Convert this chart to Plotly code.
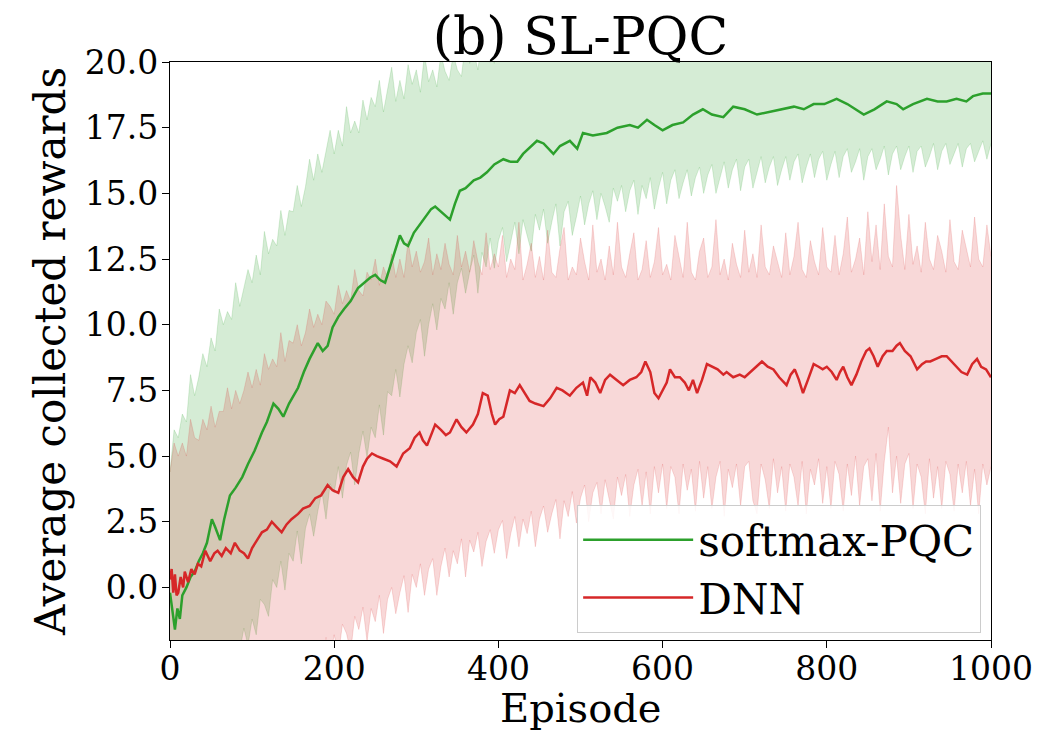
import plotly.graph_objects as go

# ---------------- data ----------------
pqc_ep = [0, 3, 6, 9, 12, 15, 20, 25, 30, 35, 40, 45, 51, 55, 61, 66, 73, 80, 88, 95,
          103, 112, 118, 126, 132, 138, 145, 156, 163, 170, 180, 186, 192, 198, 205, 212, 220, 229, 236, 244,
          250, 256, 262, 270, 280, 285, 290, 297, 304, 312, 318, 323, 330, 341, 347, 353, 360, 370, 378, 386,
          395, 406, 415, 423, 430, 440, 447, 455, 467, 475, 487, 496, 503, 515, 532, 545, 560, 570, 581, 590,
          600, 612, 625, 637, 649, 660, 674, 686, 700, 715, 731, 745, 760, 772, 784, 797, 812, 825, 835, 845,
          858, 873, 885, 893, 905, 922, 935, 946, 958, 970, 978, 990, 1000]
pqc_mean = [-0.2, -1.0, -1.6, -0.8, -1.2, -0.3, 0.0, 0.4, 0.6, 1.0, 1.3, 1.7, 2.6, 2.3, 1.8, 2.6, 3.5, 3.8, 4.2, 4.7,
            5.2, 5.9, 6.3, 7.0, 6.8, 6.5, 7.0, 7.6, 8.2, 8.7, 9.3, 9.0, 9.2, 9.9, 10.3, 10.6, 10.9, 11.4, 11.6, 11.8,
            11.9, 11.7, 11.6, 12.4, 13.4, 13.1, 13.0, 13.5, 13.8, 14.1, 14.4, 14.5, 14.3, 14.0, 14.6, 15.1, 15.2, 15.5, 15.6, 15.8,
            16.1, 16.3, 16.2, 16.2, 16.5, 16.8, 17.0, 16.9, 16.5, 16.8, 17.0, 16.7, 17.3, 17.2, 17.3, 17.5, 17.6, 17.5, 17.8, 17.6,
            17.4, 17.6, 17.7, 18.0, 18.2, 18.0, 17.9, 18.3, 18.2, 18.0, 18.1, 18.2, 18.3, 18.2, 18.4, 18.4, 18.6, 18.4, 18.2, 18.0,
            18.2, 18.5, 18.4, 18.2, 18.4, 18.6, 18.5, 18.5, 18.6, 18.5, 18.7, 18.8, 18.8]

dnn_ep = [0, 2, 4, 6, 8, 10, 13, 16, 18, 22, 26, 30, 34, 38, 43, 49, 54, 58, 63, 68,
          74, 79, 85, 90, 95, 100, 106, 112, 118, 124, 130, 136, 142, 148, 156, 162, 170, 177, 184, 192,
          198, 205, 211, 217, 223, 229, 235, 240, 246, 252, 260, 268, 276, 284, 292, 298, 304, 308, 313, 318,
          323, 330, 336, 341, 349, 355, 361, 369, 375, 381, 387, 392, 396, 401, 406, 414, 420, 426, 432, 438,
          445, 455, 463, 471, 478, 487, 495, 503, 508, 512, 518, 524, 530, 536, 544, 552, 560, 568, 574, 579,
          585, 590, 595, 600, 605, 609, 615, 621, 627, 632, 637, 642, 648, 654, 660, 667, 674, 678, 686, 694,
          700, 707, 714, 721, 728, 735, 742, 748, 751, 756, 761, 766, 771, 777, 784, 790, 795, 800, 806, 812,
          816, 820, 825, 830, 836, 842, 848, 852, 857, 862, 868, 873, 880, 885, 889, 895, 902, 910, 916, 921,
          926, 933, 940, 946, 952, 958, 964, 971, 977, 983, 988, 994, 1000]
dnn_mean = [0.3, 0.7, -0.2, 0.5, -0.3, -0.2, 0.4, 0.0, 0.6, 0.2, 0.7, 0.5, 0.9, 0.8, 1.4, 1.0, 1.3, 1.4, 1.2, 1.5,
            1.3, 1.7, 1.4, 1.3, 1.1, 1.5, 1.8, 2.1, 2.2, 2.5, 2.3, 2.1, 2.4, 2.6, 2.8, 3.0, 3.1, 3.4, 3.5, 3.9,
            3.7, 3.6, 4.2, 4.5, 4.2, 4.0, 4.6, 4.9, 5.1, 5.0, 4.9, 4.8, 4.6, 5.1, 5.3, 5.7, 5.9, 5.6, 5.4, 5.8,
            6.2, 6.0, 5.8, 5.9, 6.4, 6.1, 5.9, 6.2, 6.6, 7.4, 7.3, 6.6, 6.2, 6.4, 6.5, 7.5, 7.4, 7.7, 7.4, 7.1,
            7.0, 6.9, 7.2, 7.6, 7.5, 7.3, 7.6, 7.8, 7.3, 8.0, 7.8, 7.4, 7.9, 8.1, 7.9, 7.7, 7.9, 8.0, 8.2, 8.6,
            8.2, 7.4, 7.2, 7.5, 7.8, 8.3, 8.0, 8.0, 7.8, 7.5, 7.9, 7.4, 7.9, 8.5, 8.4, 8.3, 8.1, 8.2, 8.0, 8.1,
            8.0, 8.2, 8.4, 8.6, 8.4, 8.3, 8.0, 7.8, 7.7, 8.1, 8.3, 7.9, 7.4, 7.9, 8.5, 8.4, 8.3, 8.4, 8.2, 7.9,
            8.2, 8.4, 8.0, 7.7, 8.1, 8.6, 9.0, 9.1, 8.8, 8.4, 8.8, 9.0, 9.0, 9.2, 9.3, 9.0, 8.8, 8.3, 8.5, 8.6,
            8.6, 8.7, 8.8, 8.8, 8.6, 8.4, 8.2, 8.1, 8.5, 8.7, 8.4, 8.3, 8.0]

band_ep = list(range(0, 1001, 5))

pqc_upper = [4.4, 6.0, 5.7, 6.6, 6.3, 8.1, 7.3, 8.0, 8.9, 8.4,
             9.5, 9.0, 10.6, 10.0, 10.5, 10.2, 11.6, 10.7, 11.4, 12.1,
             11.6, 12.65, 11.9, 13.55, 12.7, 13.25, 13.0, 14.35, 13.4, 14.35,
             14.3, 15.3, 14.5, 15.25, 16.3, 15.5, 16.5, 15.8, 16.6, 17.4,
             16.5, 17.4, 16.8, 18.3, 17.3, 17.75, 17.3, 18.55, 17.8, 18.65,
             18.3, 19.3, 18.1, 18.9, 19.8, 18.5, 19.3, 18.6, 19.9, 19.15,
             19.7, 18.85, 20.3, 19.25, 19.7, 19.05, 20.3, 19.65, 19.3, 20.3,
             19.7, 19.45, 20.8, 19.95, 20.4, 19.7, 20.9, 20.05, 20.5, 19.95,
             21.0,
             20.9, 20.3, 21.0, 20.4, 21.1, 20.5, 21.2, 20.5, 21.3, 20.6,
             21.4, 20.7, 21.5, 20.7, 21.5, 20.8, 21.6, 20.8, 21.7, 20.9,
             21.7, 20.9, 21.8, 21.0, 21.8, 21.0, 21.9, 21.1, 21.9, 21.1,
             22.0, 21.2, 22.0, 21.2, 22.1, 21.3, 22.1, 21.3, 22.2, 21.4,
             22.2, 21.4, 22.3, 21.4, 22.3, 21.5, 22.3, 21.5, 22.4, 21.5,
             22.4, 21.6, 22.4, 21.6, 22.5, 21.6, 22.5, 21.7, 22.5, 21.7,
             22.6, 21.7, 22.6, 21.8, 22.6, 21.8, 22.7, 21.8, 22.7, 21.9,
             22.7, 21.9, 22.8, 21.9, 22.8, 22.0, 22.8, 22.0, 22.9, 22.0,
             22.9, 22.1, 22.9, 22.1, 23.0, 22.1, 23.0, 22.2, 23.0, 22.2,
             23.1, 22.2, 23.1, 22.3, 23.1, 22.3, 23.2, 22.3, 23.2, 22.4,
             23.2, 22.4, 23.3, 22.4, 23.3, 22.5, 23.3, 22.5, 23.4, 22.5,
             23.4, 22.6, 23.4, 22.6, 23.5, 22.6, 23.5, 22.7, 23.5, 22.7]

pqc_lower = [-5.0, -5.6, -5.2, -5.3, -4.8, -4.9, -4.5, -4.6, -4.2, -4.0,
             -3.8, -3.6, -3.4, -3.2, -3.0, -2.8, -2.6,
             -2.4, -1.55, -2.2, -1.2, -1.8, -0.45, -0.65, -1.1, 0.3, 0.0,
             1.0, -0.1, 1.3, 1.0, 2.15, 0.9, 2.25, 2.8, 1.95, 2.9,
             3.65, 2.6, 3.95, 3.6, 4.6, 3.4, 4.65, 5.15, 3.9, 5.1,
             5.95, 4.95, 6.1, 5.7, 6.95, 5.8, 7.45, 7.3, 8.3, 7.25,
             8.5, 9.2, 8.55, 9.7, 10.2, 8.8, 10.0, 10.8, 9.8, 11.0,
             10.6, 11.6, 10.4, 11.6, 12.15, 11.2, 12.0, 12.65, 11.2, 12.75,
             12.2, 13.3, 12.15, 13.2,
             13.7, 12.4, 13.2, 13.9, 12.7, 14.0, 13.4, 12.8, 14.2, 13.6,
             14.4, 13.1, 13.9, 14.6, 13.0, 14.3, 14.7, 13.4, 14.1, 14.9,
             13.8, 14.6, 15.1, 14.0, 15.0, 14.5, 13.9, 15.2, 14.7, 15.3,
             14.3, 15.1, 15.5, 14.2, 15.3, 14.8, 15.6, 14.4, 15.2, 15.8,
             14.6, 15.5, 15.9, 14.8, 15.4, 15.9, 14.9, 15.6, 16.0, 15.0,
             15.7, 16.1, 15.0, 15.6, 16.2, 15.2, 15.9, 16.3, 15.1, 16.0,
             16.3, 15.2, 15.8, 16.4, 15.4, 16.0, 16.4, 15.3, 15.9, 16.4,
             15.5, 16.2, 16.5, 15.4, 16.0, 16.5, 15.6, 16.3, 16.6, 15.5,
             16.1, 16.6, 15.6, 16.4, 16.7, 15.8, 16.2, 16.7, 15.5, 16.4,
             16.7, 15.9, 16.3, 16.8, 15.7, 16.5, 16.8, 15.9, 16.4, 16.8,
             15.8, 16.6, 16.8, 16.0, 16.4, 16.9, 15.9, 16.6, 16.9, 16.1,
             16.5, 16.9, 16.0, 16.7, 16.9, 16.2, 16.6, 17.0, 16.3, 16.9]

dnn_upper = [4.4, 5.5, 5.0, 5.5, 5.0, 6.4, 5.7, 5.6, 6.4, 6.0,
             6.9, 6.1, 6.7, 6.7, 7.6, 6.8, 7.5, 7.0, 7.5, 8.2,
             7.6, 8.3, 7.7, 8.9, 8.3, 8.7, 8.4, 9.7, 8.6, 9.4,
             9.3, 10.0, 9.2, 9.7, 10.6, 9.9, 10.4, 10.0, 10.9, 10.7,
             10.4, 11.5, 10.8, 11.3, 10.9, 12.1, 11.3, 11.1, 12.0, 11.7,
             12.5, 11.5, 12.2, 11.8, 12.7, 11.8, 12.5, 11.8, 13.2, 12.2,
             12.8, 12.0, 12.4, 13.3, 11.9, 12.7, 12.1, 13.1, 12.3, 11.9,
             13.4, 12.2, 12.8, 12.0, 13.2, 12.4, 11.9, 13.5, 12.1, 12.7,
             12.2,
             13.4, 11.8, 12.5, 12.1, 13.9, 11.7, 12.3, 13.1, 11.8, 12.6,
             11.7, 13.6, 12.0, 11.8, 12.9, 13.7, 11.7, 12.2, 11.9, 13.3,
             12.4, 11.7, 13.8, 12.0, 12.5, 11.7, 13.0, 11.9, 13.9, 12.2,
             11.8, 12.7, 13.5, 11.7, 12.1, 13.2, 11.8, 12.4, 13.7, 11.9,
             12.3, 11.7, 13.4, 12.6, 11.8, 13.9, 12.0, 11.7, 12.8, 13.3,
             11.8, 12.2, 14.0, 11.9, 12.5, 11.7, 13.1, 12.3, 11.8, 13.6,
             12.0, 12.7, 11.8, 13.8, 12.2, 11.9, 13.0, 12.4, 11.8, 13.5,
             11.9, 12.6, 13.9, 12.1, 11.8, 13.2, 12.4, 11.9, 13.7, 12.2,
             12.0, 13.4, 11.9, 12.7, 14.1, 12.0, 12.5, 13.3, 11.9, 14.3,
             12.4, 13.8, 12.1, 14.6, 12.6, 12.2, 15.3, 13.4, 12.1, 14.2,
             12.3, 13.0, 12.0, 13.9, 12.5, 12.1, 13.4, 12.8, 12.0, 14.0,
             12.4, 12.1, 13.6, 12.9, 12.2, 14.1, 12.5, 12.2, 13.8, 12.6]

dnn_lower = [-4.0, -4.6, -4.2, -4.8, -4.4, -5.0, -4.6, -5.1, -4.8, -5.2,
             -4.9, -5.3, -5.0, -5.4, -5.1, -5.5, -5.2, -5.6, -5.3, -5.5,
             -5.2, -5.4, -5.0, -5.2, -4.8, -5.0, -4.5, -4.7, -4.2, -4.4,
             -3.8, -4.0, -3.4, -3.6, -3.0, -3.2, -2.6,
             -2.6, -1.9, -2.65, -1.8, -2.6, -1.4, -1.75, -2.45, -1.1, -1.6,
             -0.75, -2.05, -0.8, -1.3, -0.3, -1.75, -0.45, 0.0, -1.0, -0.2,
             0.45, -0.95, 0.5, 0.0, 0.9, -0.3, 0.7, 1.1, -0.3, 0.8,
             1.5, 0.4, 1.4, 0.9, 1.85, 0.4, 1.8, 1.35, 2.1, 0.8,
             1.75, 2.2, 1.3, 2.2, 2.55, 1.1, 2.05, 2.7, 1.55, 2.6,
             2.05, 2.9, 1.55, 2.6, 3.1, 2.1, 2.8, 3.35, 1.85, 3.3,
             2.7, 3.65, 2.45, 3.4,
             3.9, 2.5, 3.6, 4.0, 2.8, 4.1, 3.3, 2.6, 4.2, 3.5,
             4.3, 2.7, 3.9, 4.5, 3.1, 4.4, 2.8, 4.6, 3.6, 4.7,
             3.0, 4.6, 4.2, 2.8, 4.7, 3.7, 4.5, 2.9, 4.8, 3.4,
             4.6, 3.0, 4.2, 4.8, 2.7, 4.5, 3.8, 4.7, 3.1, 4.6,
             4.8, 3.3, 2.8, 4.7, 4.1, 3.0, 4.9, 3.6, 4.6, 2.9,
             4.7, 4.2, 3.1, 4.8, 2.8, 4.5, 3.9, 4.9, 3.2, 4.6,
             3.0, 4.8, 4.3, 2.9, 4.7, 3.5, 5.0, 3.1, 4.6, 4.9,
             3.3, 5.1, 2.9, 4.8, 6.1, 3.6, 5.0, 3.2, 4.7, 5.1,
             3.0, 4.7, 4.2, 2.8, 4.9, 3.4, 4.6, 3.0, 4.8, 4.3,
             2.9, 4.7, 3.6, 4.8, 3.1, 4.5, 2.8, 4.7, 3.9, 4.6]

series_names = ["softmax-PQC", "DNN"]
x_ticks = [0, 200, 400, 600, 800, 1000]
y_ticks = [0.0, 2.5, 5.0, 7.5, 10.0, 12.5, 15.0, 17.5, 20.0]

# ---------------- styles ----------------
GREEN = "#2ca02c"
RED = "#d62728"
GREEN_FILL = "rgba(44,160,44,0.2)"
RED_FILL = "rgba(214,39,40,0.18)"
GREEN_EDGE = "rgba(44,160,44,0.22)"
RED_EDGE = "rgba(214,39,40,0.2)"
FONT = "DejaVu Serif"

fig = go.Figure()

# green band
fig.add_trace(go.Scatter(x=band_ep, y=pqc_lower, mode="lines",
                         line=dict(color=GREEN_EDGE, width=0.8),
                         showlegend=False, hoverinfo="skip"))
fig.add_trace(go.Scatter(x=band_ep, y=pqc_upper, mode="lines", fill="tonexty",
                         fillcolor=GREEN_FILL, line=dict(color=GREEN_EDGE, width=0.8),
                         showlegend=False, hoverinfo="skip"))
# red band
fig.add_trace(go.Scatter(x=band_ep, y=dnn_lower, mode="lines",
                         line=dict(color=RED_EDGE, width=0.8),
                         showlegend=False, hoverinfo="skip"))
fig.add_trace(go.Scatter(x=band_ep, y=dnn_upper, mode="lines", fill="tonexty",
                         fillcolor=RED_FILL, line=dict(color=RED_EDGE, width=0.8),
                         showlegend=False, hoverinfo="skip"))
# mean lines
fig.add_trace(go.Scatter(x=pqc_ep, y=pqc_mean, mode="lines", name=series_names[0],
                         line=dict(color=GREEN, width=2.5)))
fig.add_trace(go.Scatter(x=dnn_ep, y=dnn_mean, mode="lines", name=series_names[1],
                         line=dict(color=RED, width=2.5)))

axis_common = dict(
    showline=True, linecolor="black", linewidth=1.3, mirror=True,
    ticks="outside", ticklen=7, tickwidth=1.3, tickcolor="black",
    showgrid=False, zeroline=False,
    tickfont=dict(family=FONT, size=33, color="black"),
    automargin=False,
)

fig.update_layout(
    width=1061, height=736,
    margin=dict(l=170, r=70, t=62, b=96),
    paper_bgcolor="white", plot_bgcolor="white",
    font=dict(family=FONT, color="black"),
    title=dict(text="(b) SL-PQC", x=0.5, xref="paper", xanchor="center",
               y=0.951, yanchor="middle", font=dict(family=FONT, size=52, color="black")),
    xaxis=dict(range=[0, 1000], tickvals=x_ticks, ticktext=[str(v) for v in x_ticks],
               ticklabelstandoff=-8, **axis_common),
    yaxis=dict(range=[-2.0, 20.0], tickvals=y_ticks, ticktext=[f"{v:.1f}" for v in y_ticks],
               ticklabelstandoff=-3,
               title=dict(text="Average collected rewards", font=dict(family=FONT, size=42, color="black"), standoff=6),
               **axis_common),
    legend=dict(x=0.988, y=0.012, xanchor="right", yanchor="bottom",
                bgcolor="rgba(255,255,255,0.85)", bordercolor="#cccccc", borderwidth=1,
                font=dict(family=FONT, size=42, color="black"),
                itemwidth=110, traceorder="normal", tracegroupgap=0),
    showlegend=True,
    annotations=[dict(text="Episode", xref="paper", yref="paper", x=0.5, y=-0.074,
                      xanchor="center", yanchor="top", showarrow=False,
                      font=dict(family=FONT, size=40, color="black"))],
)

fig.write_html("out.html", config={"displayModeBar": False},
               post_script="document.body.style.margin='0px';")
